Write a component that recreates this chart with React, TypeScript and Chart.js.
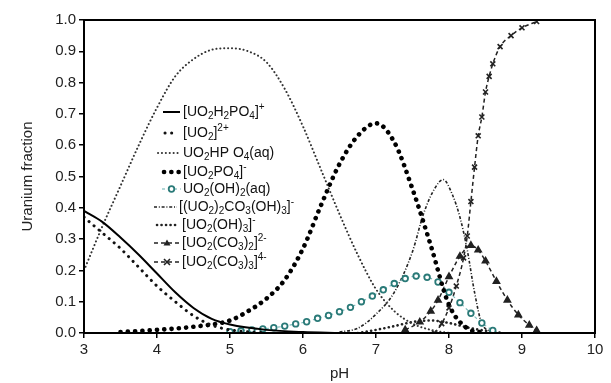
import React, { useEffect, useRef } from 'react';
import { Chart, registerables } from 'chart.js';

Chart.register(...registerables);

// ---- data ----
const seriesLabels = [
  '[UO_{2}H_{2}PO_{4}]^{+}',
  '[UO_{2}]^{2+}',
  'UO_{2}HP O_{4}(aq)',
  '[UO_{2}PO_{4}]^{-}',
  'UO_{2}(OH)_{2}(aq)',
  '[(UO_{2})_{2}CO_{3}(OH)_{3}]^{-}',
  '[UO_{2}(OH)_{3}]^{-}',
  '[UO_{2}(CO_{3})_{2}]^{2-}',
  '[UO_{2}(CO_{3})_{3}]^{4-}',
];

const pH1 = [3, 3.25, 3.5, 3.75, 4, 4.25, 4.5, 4.75, 5, 5.5, 6, 6.5];
const v1 = [0.39, 0.355, 0.305, 0.25, 0.19, 0.13, 0.08, 0.045, 0.027, 0.01, 0.003, 0];

const pH2 = [3, 3.25, 3.5, 3.75, 4, 4.25, 4.5, 4.75, 5, 5.5];
const v2 = [0.37, 0.32, 0.27, 0.21, 0.15, 0.1, 0.055, 0.025, 0.01, 0];

const pH3 = [3, 3.25, 3.5, 3.75, 4, 4.25, 4.5, 4.75, 5, 5.25, 5.5, 5.75, 6, 6.25, 6.5, 6.75, 7, 7.25, 7.5, 7.75, 8];
const v3 = [0.2, 0.34, 0.47, 0.6, 0.72, 0.82, 0.875, 0.905, 0.91, 0.9, 0.865, 0.78, 0.66, 0.52, 0.38, 0.25, 0.14, 0.07, 0.03, 0.01, 0];

const pH4 = [3.5, 4, 4.5, 5, 5.25, 5.5, 5.75, 6, 6.25, 6.5, 6.75, 7, 7.25, 7.5, 7.75, 8, 8.25, 8.5];
const v4 = [0.003, 0.01, 0.02, 0.04, 0.07, 0.11, 0.17, 0.27, 0.41, 0.54, 0.63, 0.67, 0.61, 0.46, 0.28, 0.09, 0.015, 0];

const pH5 = [5.0, 5.15, 5.3, 5.45, 5.6, 5.75, 5.9, 6.05, 6.2, 6.35, 6.5, 6.65, 6.8, 6.95, 7.1, 7.25, 7.4, 7.55, 7.7, 7.85, 8.0, 8.15, 8.3, 8.45, 8.6];
const v5 = [0.004, 0.007, 0.01, 0.013, 0.017, 0.022, 0.029, 0.036, 0.047, 0.056, 0.068, 0.082, 0.1, 0.118, 0.138, 0.158, 0.174, 0.182, 0.178, 0.163, 0.13, 0.097, 0.063, 0.032, 0.008];

const pH6 = [6.5, 6.75, 7, 7.25, 7.5, 7.65, 7.8, 7.92, 8.05, 8.15, 8.25, 8.35, 8.45, 8.6];
const v6 = [0.003, 0.015, 0.06, 0.13, 0.26, 0.38, 0.46, 0.49, 0.44, 0.37, 0.265, 0.13, 0.03, 0.003];

const pH7 = [6.75, 7, 7.25, 7.5, 7.75, 8, 8.25, 8.5, 8.75];
const v7 = [0, 0.01, 0.022, 0.035, 0.04, 0.032, 0.018, 0.007, 0];

const pH8 = [7.4, 7.6, 7.75, 7.85, 8.0, 8.15, 8.3, 8.4, 8.5, 8.65, 8.8, 8.95, 9.1, 9.2];
const v8 = [0.01, 0.035, 0.07, 0.105, 0.18, 0.245, 0.28, 0.265, 0.23, 0.165, 0.105, 0.058, 0.025, 0.008];

const pH9 = [7.8, 7.9, 8.0, 8.1, 8.2, 8.25, 8.3, 8.35, 8.4, 8.45, 8.5, 8.55, 8.6, 8.7, 8.85, 9.0, 9.2];
const v9 = [0, 0.03, 0.08, 0.15, 0.24, 0.31, 0.42, 0.53, 0.63, 0.69, 0.77, 0.82, 0.86, 0.915, 0.95, 0.975, 0.995];

const xMin = 3;
const xMax = 10;
const yMin = 0;
const yMax = 1;

const FONT = '"Liberation Sans", Arial, Helvetica, sans-serif';

const pts = (xs: number[], ys: number[]) => xs.map((x, i) => ({ x, y: ys[i] }));

type Style = {
  color: string;
  width: number;
  dash: number[];
  cap: CanvasLineCap;
  marker?: 'circle' | 'triangle' | 'crossRot';
  markerColor?: string;
};

const styles: Style[] = [
  { color: '#000', width: 2, dash: [], cap: 'butt' },
  { color: '#111', width: 3, dash: [0.1, 6.5], cap: 'round' },
  { color: '#333', width: 2, dash: [0.1, 3.8], cap: 'round' },
  { color: '#000', width: 4.6, dash: [0.1, 7.2], cap: 'round' },
  { color: '#7fbcbc', width: 1.2, dash: [3, 3], cap: 'butt', marker: 'circle', markerColor: '#2a7a78' },
  { color: '#222', width: 1.6, dash: [3, 1.8, 1, 1.8], cap: 'butt' },
  { color: '#222', width: 2.6, dash: [0.1, 4.4], cap: 'round' },
  { color: '#222', width: 1.5, dash: [4, 3], cap: 'butt', marker: 'triangle', markerColor: '#222' },
  { color: '#222', width: 1.5, dash: [4, 3], cap: 'butt', marker: 'crossRot', markerColor: '#222' },
];

const seriesData = [
  pts(pH1, v1), pts(pH2, v2), pts(pH3, v3), pts(pH4, v4), pts(pH5, v5),
  pts(pH6, v6), pts(pH7, v7), pts(pH8, v8), pts(pH9, v9),
];

const legendRows = [112, 133, 153, 172, 189, 207, 225, 243, 262];
const legendTextX = [183, 183, 183, 183, 183, 179, 182, 182, 182];
const legendSample: [number, number][] = [
  [163, 180], [165, 178], [158, 180], [164, 181], [162, 181],
  [154, 177], [157, 179], [154, 180], [154, 180],
];

function drawRich(ctx: CanvasRenderingContext2D, text: string, x: number, y: number) {
  let i = 0;
  let cx = x;
  while (i < text.length) {
    let mode = 0;
    let seg = '';
    if ((text[i] === '_' || text[i] === '^') && text[i + 1] === '{') {
      mode = text[i] === '_' ? 1 : 2;
      const end = text.indexOf('}', i);
      seg = text.slice(i + 2, end);
      i = end + 1;
    } else {
      let j = i;
      while (j < text.length && !((text[j] === '_' || text[j] === '^') && text[j + 1] === '{')) j++;
      seg = text.slice(i, j);
      i = j;
    }
    ctx.font = mode ? `10px ${FONT}` : `14px ${FONT}`;
    const dy = mode === 1 ? 4 : mode === 2 ? -5 : 0;
    ctx.fillText(seg, cx, y + dy);
    cx += ctx.measureText(seg).width;
  }
}

function drawMarker(ctx: CanvasRenderingContext2D, st: Style, x: number, y: number) {
  ctx.save();
  ctx.setLineDash([]);
  ctx.strokeStyle = st.markerColor || st.color;
  ctx.fillStyle = st.markerColor || st.color;
  if (st.marker === 'circle') {
    ctx.lineWidth = 1.8;
    ctx.fillStyle = '#fff';
    ctx.beginPath();
    ctx.arc(x, y, 2.8, 0, Math.PI * 2);
    ctx.fill();
    ctx.stroke();
  } else if (st.marker === 'triangle') {
    ctx.beginPath();
    ctx.moveTo(x, y - 3.5);
    ctx.lineTo(x + 3.5, y + 2.5);
    ctx.lineTo(x - 3.5, y + 2.5);
    ctx.closePath();
    ctx.fill();
  } else if (st.marker === 'crossRot') {
    ctx.lineWidth = 1.6;
    ctx.beginPath();
    ctx.moveTo(x - 3, y - 3);
    ctx.lineTo(x + 3, y + 3);
    ctx.moveTo(x + 3, y - 3);
    ctx.lineTo(x - 3, y + 3);
    ctx.stroke();
  }
  ctx.restore();
}

const framePlugin = {
  id: 'frameLegend',
  afterDraw(chart: any) {
    const { ctx, chartArea } = chart;
    ctx.save();
    ctx.strokeStyle = '#000';
    ctx.lineWidth = 2;
    ctx.setLineDash([]);
    ctx.strokeRect(chartArea.left, chartArea.top, chartArea.right - chartArea.left, chartArea.bottom - chartArea.top);

    // legend
    for (let k = 0; k < seriesLabels.length; k++) {
      const st = styles[k];
      const y = legendRows[k];
      const [x0, x1] = legendSample[k];
      ctx.save();
      ctx.strokeStyle = st.color;
      ctx.lineWidth = st.width;
      ctx.lineCap = st.cap;
      ctx.setLineDash(st.dash);
      ctx.beginPath();
      ctx.moveTo(x0, y);
      ctx.lineTo(x1, y);
      ctx.stroke();
      ctx.restore();
      if (st.marker) drawMarker(ctx, st, (x0 + x1) / 2, y);
      ctx.fillStyle = '#111';
      ctx.textBaseline = 'middle';
      ctx.textAlign = 'left';
      drawRich(ctx, seriesLabels[k], legendTextX[k], y);
    }
    ctx.restore();
  },
};

export default function App() {
  const ref = useRef<HTMLCanvasElement | null>(null);

  useEffect(() => {
    document.body.style.margin = '0';
    const canvas = ref.current;
    if (!canvas) return;
    const chart = new Chart(canvas, {
      type: 'line',
      data: {
        datasets: seriesData.map((d, k) => {
          const st = styles[k];
          return {
            label: seriesLabels[k],
            data: d,
            borderColor: st.color,
            borderWidth: st.width,
            borderDash: st.dash,
            borderCapStyle: st.cap,
            cubicInterpolationMode: 'monotone' as const,
            fill: false,
            pointStyle: st.marker || 'circle',
            pointRadius: st.marker ? (st.marker === 'circle' ? 2.8 : 3.5) : 0,
            pointBorderColor: st.markerColor || st.color,
            pointBackgroundColor: st.marker === 'circle' ? '#fff' : (st.markerColor || st.color),
            pointBorderWidth: st.marker === 'circle' ? 1.8 : 1.6,
          };
        }),
      },
      options: {
        responsive: false,
        animation: false,
        events: [],
        layout: { padding: { top: 20, right: 16, bottom: 0, left: 0 } },
        plugins: {
          legend: { display: false },
          tooltip: { enabled: false },
        },
        scales: {
          x: {
            type: 'linear',
            min: xMin,
            max: xMax,
            afterFit: (s: any) => { s.height = 50; },
            ticks: {
              stepSize: 1,
              color: '#222',
              font: { family: FONT, size: 15 },
              padding: 3,
            },
            grid: { drawOnChartArea: false, drawTicks: true, tickLength: 5, color: '#000', lineWidth: 1.5 },
            border: { display: true, color: '#000', width: 2 },
            title: {
              display: true,
              text: 'pH',
              color: '#222',
              font: { family: FONT, size: 15 },
              padding: { top: 0, bottom: 0 },
            },
          },
          y: {
            type: 'linear',
            min: yMin,
            max: yMax,
            afterFit: (s: any) => { s.width = 84; },
            ticks: {
              stepSize: 0.1,
              color: '#222',
              font: { family: FONT, size: 15 },
              padding: 3,
              callback: (v: any) => Number(v).toFixed(1),
            },
            grid: { drawOnChartArea: false, drawTicks: true, tickLength: 5, color: '#000', lineWidth: 1.5 },
            border: { display: true, color: '#000', width: 2 },
            title: {
              display: true,
              text: 'Uranium fraction',
              color: '#222',
              font: { family: FONT, size: 15 },
              padding: { top: 19, bottom: 0 },
            },
          },
        },
      },
      plugins: [framePlugin],
    } as any);
    return () => chart.destroy();
  }, []);

  return (
    <div style={{ width: 611, height: 383, background: '#fff' }}>
      <canvas ref={ref} width={611} height={383} style={{ display: 'block' }} />
    </div>
  );
}
